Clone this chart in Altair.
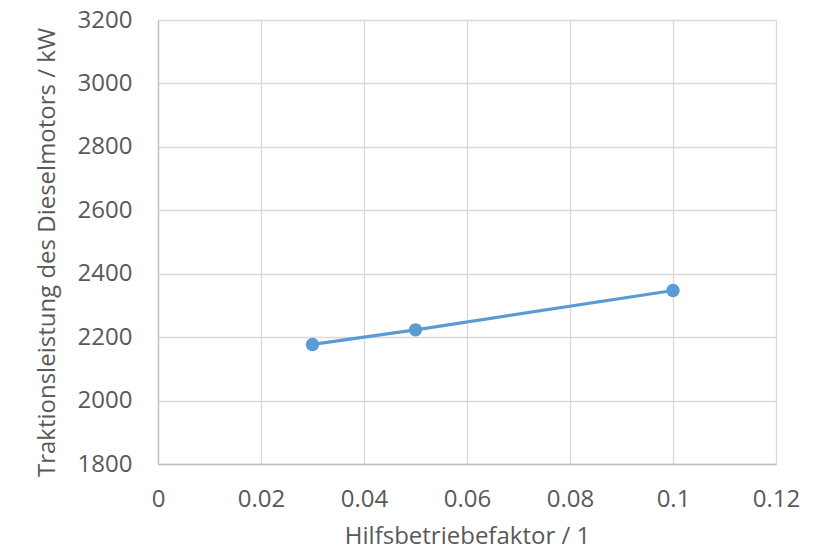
import altair as alt
import pandas as pd

x_vals = [0.03, 0.05, 0.1]
y_vals = [2177, 2223, 2347]

df = pd.DataFrame({"x": x_vals, "y": y_vals})

FONT = "Open Sans"
TXT = "#595959"

base = alt.Chart(df).encode(
    x=alt.X("x:Q",
            scale=alt.Scale(domain=[0, 0.12], nice=False, zero=False),
            axis=alt.Axis(title="Hilfsbetriebefaktor / 1",
                          values=[0, 0.02, 0.04, 0.06, 0.08, 0.1, 0.12],
                          labelExpr="datum.value == 0 ? '0' : format(datum.value, '.2~f')",
                          labelPadding=23, titlePadding=13)),
    y=alt.Y("y:Q",
            scale=alt.Scale(domain=[1800, 3200], nice=False, zero=False),
            axis=alt.Axis(title="Traktionsleistung des Dieselmotors / kW",
                          values=list(range(1800, 3201, 200)),
                          format="d",
                          labelPadding=26, titlePadding=18, titleY=232)),
)

line = base.mark_line(color="#5B9BD5", strokeWidth=3.2)
pts = base.mark_circle(color="#5B9BD5", size=180, opacity=1)

chart = (line + pts).properties(
    width=618, height=444,
    autosize=alt.AutoSizeParams(type="none"),
    padding={"left": 150, "top": 12, "right": 44, "bottom": 88},
).configure_view(stroke=None).configure_axis(
    grid=True, gridColor="#D9D9D9", gridWidth=1.3,
    domainColor="#BFBFBF", domainWidth=1.3,
    ticks=False,
    labelFont=FONT, labelFontSize=24, labelColor=TXT,
    titleFont=FONT, titleFontSize=24, titleColor=TXT, titleFontWeight="normal",
    labelFlush=False, labelOverlap=False,
)

chart.save("out.html", embed_options={"renderer": "svg", "actions": False})
